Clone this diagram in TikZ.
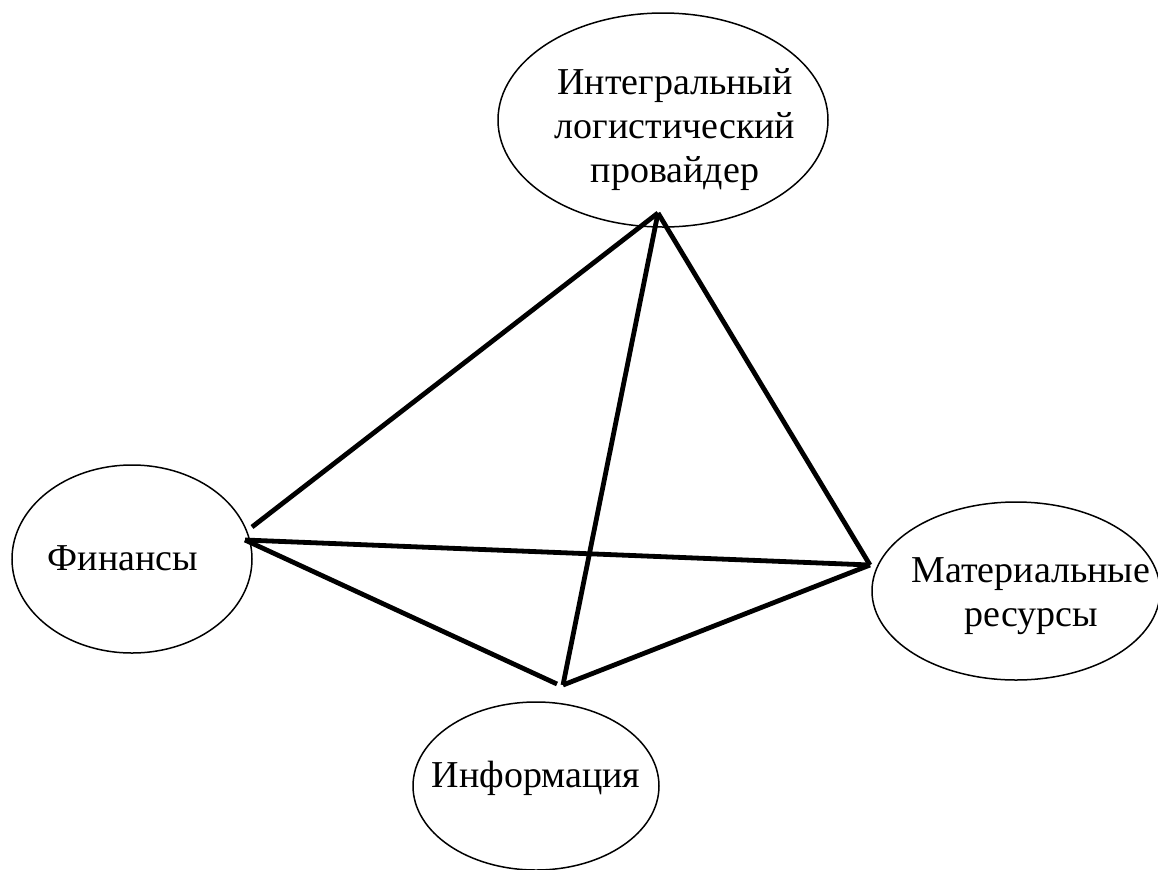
\documentclass[tikz,border=0pt]{standalone}
\usepackage{fontspec}
\setmainfont{Liberation Serif}
\usepackage{tikz}
\usetikzlibrary{shapes.geometric}
\tikzset{
oval/.style={
  ellipse,
  draw,
  line width=0.75pt,
  inner sep=0pt
},
label text/.style={
  inner sep=0pt,
  align=center,
  font=\fontsize{19}{22}\selectfont
},
link/.style={line width=2.4pt},
}

\begin{document}
\begin{tikzpicture}[x=0.5pt,y=-0.5pt]
\useasboundingbox (0,0) rectangle (1158,869);
% the ovals
\node[oval,minimum width=165pt,minimum height=107pt] (prov) at (663,120) {};
\node[oval,minimum width=120pt,minimum height=94pt] (fin) at (132,559) {};
\node[oval,minimum width=144pt,minimum height=89pt] (mat) at (1016,591) {};
\node[oval,minimum width=123pt,minimum height=84pt] (inf) at (536,786) {};
% the texts
\node[label text] (prov-t) at (675,130) {Интегральный\\логистический\\провайдер};
\node[label text,anchor=base] (fin-t) at (123,570) {Финансы};
\node[label text] (mat-t) at (1031,596) {Материальные\\ресурсы};
\node[label text,anchor=base] (inf-t) at (536,787) {Информация};
% the corners
\coordinate (apex) at (658,213);
\coordinate (fin-a) at (252,527);
\coordinate (fin-b) at (245,540);
\coordinate (mat-a) at (870,565);
\coordinate (inf-a) at (557,684);
\coordinate (inf-b) at (563,685);
% the links
\draw[link] (apex) -- (fin-a);
\draw[link] (apex) -- (inf-b);
\draw[link] (apex) -- (mat-a);
\draw[link] (fin-b) -- (mat-a);
\draw[link] (fin-b) -- (inf-a);
\draw[link] (inf-b) -- (mat-a);
\end{tikzpicture}
\end{document}
